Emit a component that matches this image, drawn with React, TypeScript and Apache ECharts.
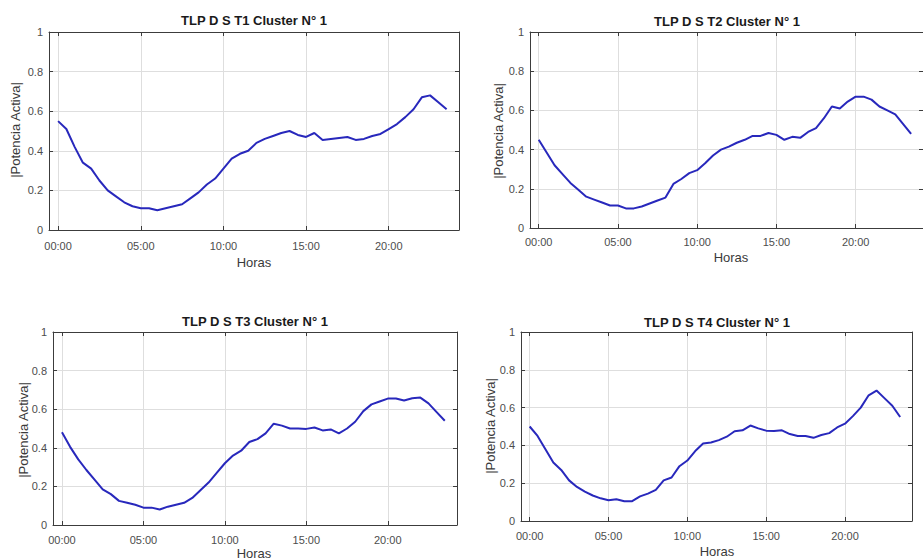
import React, { useEffect, useRef } from "react";
import * as echarts from "echarts";

// Half-hour sample positions (hours of the day)
const hours = [
  0, 0.5, 1, 1.5, 2, 2.5, 3, 3.5, 4, 4.5, 5, 5.5, 6, 6.5, 7, 7.5, 8, 8.5, 9, 9.5,
  10, 10.5, 11, 11.5, 12, 12.5, 13, 13.5, 14, 14.5, 15, 15.5, 16, 16.5, 17, 17.5,
  18, 18.5, 19, 19.5, 20, 20.5, 21, 21.5, 22, 22.5, 23, 23.5,
];
const xTickHours = [0, 5, 10, 15, 20];

const titles = [
  "TLP D S T1 Cluster N° 1",
  "TLP D S T2 Cluster N° 1",
  "TLP D S T3 Cluster N° 1",
  "TLP D S T4 Cluster N° 1",
];
const xAxisName = "Horas";
const yAxisName = "|Potencia Activa|";

const seriesT1 = [
  0.55, 0.51, 0.42, 0.34, 0.31, 0.25, 0.2, 0.17, 0.14, 0.12, 0.11, 0.11, 0.1, 0.11,
  0.12, 0.13, 0.16, 0.19, 0.23, 0.26, 0.31, 0.36, 0.385, 0.4, 0.44, 0.46, 0.475, 0.49,
  0.5, 0.48, 0.47, 0.49, 0.455, 0.46, 0.465, 0.47, 0.455, 0.46, 0.475, 0.485, 0.51,
  0.535, 0.57, 0.61, 0.67, 0.68, 0.645, 0.61,
];
const seriesT2 = [
  0.45, 0.385, 0.32, 0.275, 0.23, 0.195, 0.16, 0.145, 0.13, 0.115, 0.115, 0.1, 0.1,
  0.11, 0.125, 0.14, 0.155, 0.225, 0.25, 0.28, 0.295, 0.33, 0.37, 0.4, 0.415, 0.435,
  0.45, 0.47, 0.47, 0.485, 0.475, 0.45, 0.465, 0.46, 0.49, 0.51, 0.56, 0.62, 0.61,
  0.645, 0.67, 0.67, 0.655, 0.62, 0.6, 0.58, 0.53, 0.48,
];
const seriesT3 = [
  0.48, 0.405, 0.34, 0.285, 0.235, 0.185, 0.16, 0.125, 0.115, 0.105, 0.09, 0.09, 0.08,
  0.095, 0.105, 0.115, 0.14, 0.18, 0.22, 0.27, 0.32, 0.36, 0.385, 0.43, 0.445, 0.475,
  0.525, 0.515, 0.5, 0.5, 0.498, 0.505, 0.49, 0.495, 0.475, 0.5, 0.535, 0.59, 0.625,
  0.64, 0.655, 0.655, 0.645, 0.657, 0.66, 0.63, 0.585, 0.54,
];
const seriesT4 = [
  0.5, 0.45, 0.38, 0.31, 0.27, 0.215, 0.18, 0.155, 0.135, 0.12, 0.11, 0.115, 0.105,
  0.105, 0.13, 0.145, 0.165, 0.215, 0.23, 0.29, 0.32, 0.37, 0.41, 0.415, 0.428, 0.446,
  0.475, 0.48, 0.505, 0.49, 0.478, 0.476, 0.48, 0.46, 0.45, 0.45, 0.44, 0.455, 0.465,
  0.495, 0.515, 0.555, 0.6, 0.665, 0.69, 0.65, 0.61, 0.55,
];
const allSeries = [seriesT1, seriesT2, seriesT3, seriesT4];

// Layout of each panel (pixels)
const panels = [
  { grid: { left: 49, top: 32, width: 410, height: 198 }, title: [254, 20], ylab: [15, 130], xlab: [254, 262], xMargin: 10 },
  { grid: { left: 530, top: 32, width: 401, height: 196 }, title: [727, 21], ylab: [498, 131], xlab: [731, 257], xMargin: 8 },
  { grid: { left: 53, top: 332, width: 404, height: 193 }, title: [255, 321], ylab: [23, 430], xlab: [254, 553], xMargin: 9 },
  { grid: { left: 521, top: 332, width: 391, height: 189 }, title: [717, 322], ylab: [490, 426], xlab: [717, 551], xMargin: 9 },
];

const FONT = "'Liberation Sans', Arial, Helvetica, sans-serif";
const FRAME = "#3c3c3c";
const GRIDC = "#dedede";
const TICKTXT = "#4d4d4d";
const LINE = "#2828bc";
const XMIN = -0.55;
const XMAX = 24.25;

const fmtHour = (v: number) => (v < 10 ? "0" + v : "" + v) + ":00";

function buildOption() {
  const grid: any[] = [];
  const xAxis: any[] = [];
  const yAxis: any[] = [];
  const series: any[] = [];
  const graphic: any[] = [];

  panels.forEach((p, i) => {
    grid.push({ ...p.grid, containLabel: false, show: false });
    const xi = xAxis.length;
    xAxis.push({
      type: "value",
      gridIndex: i,
      position: "bottom",
      min: XMIN,
      max: XMAX,
      axisLine: { show: true, onZero: false, lineStyle: { color: FRAME, width: 1 } },
      axisTick: { show: true, inside: true, length: 4, customValues: xTickHours, lineStyle: { color: FRAME } },
      axisLabel: {
        show: true,
        customValues: xTickHours,
        formatter: (v: number) => fmtHour(v),
        color: TICKTXT,
        fontSize: 11,
        fontFamily: FONT,
        margin: p.xMargin,
      },
      splitLine: { show: true, lineStyle: { color: GRIDC, width: 1 } },
    });
    xAxis.push({
      type: "value",
      gridIndex: i,
      position: "top",
      min: XMIN,
      max: XMAX,
      axisLine: { show: true, onZero: false, lineStyle: { color: FRAME, width: 1 } },
      axisTick: { show: true, inside: true, length: 4, customValues: xTickHours, lineStyle: { color: FRAME } },
      axisLabel: { show: false },
      splitLine: { show: false },
    });
    const yi = yAxis.length;
    yAxis.push({
      type: "value",
      gridIndex: i,
      position: "left",
      min: 0,
      max: 1,
      interval: 0.2,
      axisLine: { show: true, onZero: false, lineStyle: { color: FRAME, width: 1 } },
      axisTick: { show: true, inside: true, length: 4, lineStyle: { color: FRAME } },
      axisLabel: { color: TICKTXT, fontSize: 11, fontFamily: FONT, margin: 6, formatter: (v: number) => String(Math.round(v * 10) / 10) },
      splitLine: { show: true, lineStyle: { color: GRIDC, width: 1 } },
    });
    yAxis.push({
      type: "value",
      gridIndex: i,
      position: "right",
      min: 0,
      max: 1,
      interval: 0.2,
      axisLine: { show: true, onZero: false, lineStyle: { color: FRAME, width: 1 } },
      axisTick: { show: true, inside: true, length: 4, lineStyle: { color: FRAME } },
      axisLabel: { show: false },
      splitLine: { show: false },
    });

    series.push({
      type: "line",
      xAxisIndex: xi,
      yAxisIndex: yi,
      data: hours.map((h, j) => [h, allSeries[i][j]]),
      showSymbol: false,
      symbol: "none",
      lineStyle: { color: LINE, width: 2 },
      z: 5,
    });

    graphic.push({
      type: "text",
      x: p.title[0],
      y: p.title[1],
      style: {
        text: titles[i],
        fill: "#1a1a1a",
        font: `bold 13px ${FONT}`,
        align: "center",
        verticalAlign: "middle",
        textAlign: "center",
        textVerticalAlign: "middle",
      },
    });
    graphic.push({
      type: "text",
      x: p.ylab[0],
      y: p.ylab[1],
      rotation: Math.PI / 2,
      style: {
        text: yAxisName,
        fill: "#3a3a3a",
        font: `13px ${FONT}`,
        align: "center",
        verticalAlign: "middle",
        textAlign: "center",
        textVerticalAlign: "middle",
      },
    });
    graphic.push({
      type: "text",
      x: p.xlab[0],
      y: p.xlab[1],
      style: {
        text: xAxisName,
        fill: "#3a3a3a",
        font: `13px ${FONT}`,
        align: "center",
        verticalAlign: "middle",
        textAlign: "center",
        textVerticalAlign: "middle",
      },
    });
  });

  return {
    animation: false,
    backgroundColor: "#ffffff",
    textStyle: { fontFamily: FONT },
    grid,
    xAxis,
    yAxis,
    series,
    graphic,
  };
}

export default function App() {
  const ref = useRef<HTMLDivElement>(null);
  useEffect(() => {
    if (!ref.current) return;
    const chart = echarts.init(ref.current, undefined, { renderer: "svg" });
    chart.setOption(buildOption() as any);
    return () => chart.dispose();
  }, []);
  return (
    <div
      ref={ref}
      style={{ position: "fixed", left: 0, top: 0, width: 923, height: 560, background: "#fff" }}
    />
  );
}
